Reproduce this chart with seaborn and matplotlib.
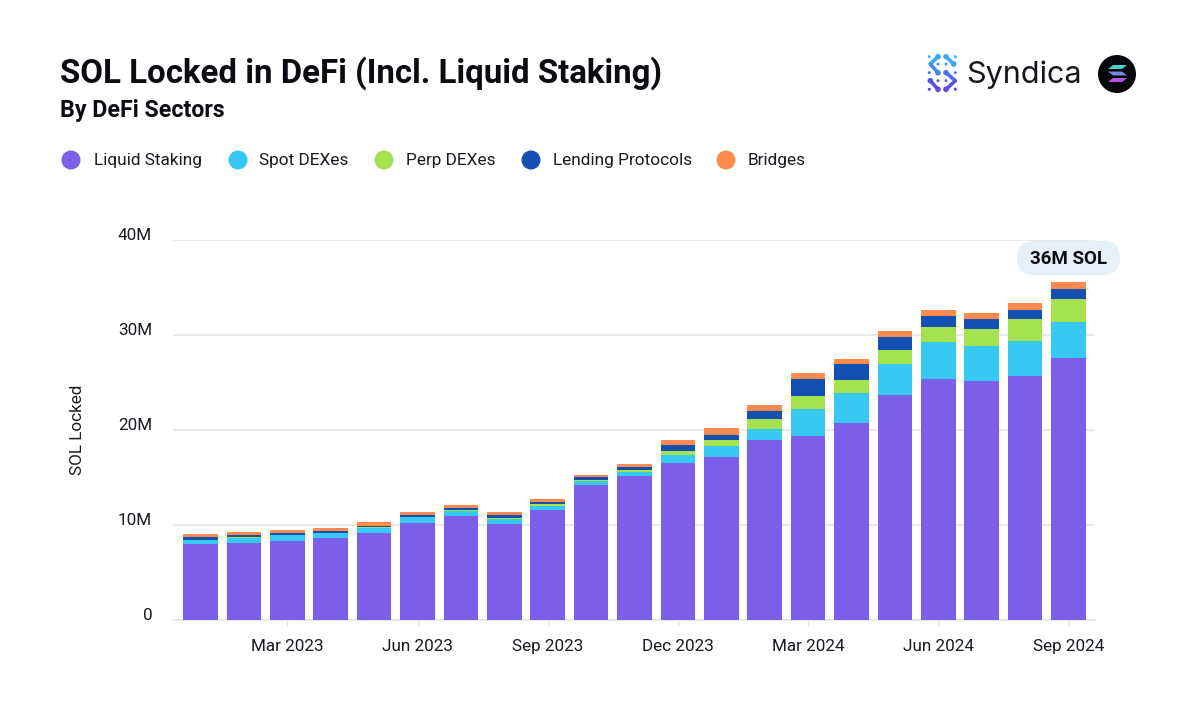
import numpy as np
import matplotlib
matplotlib.use('Agg')
import matplotlib.pyplot as plt
import seaborn as sns
from matplotlib.patches import Circle, FancyBboxPatch, Polygon
from matplotlib.transforms import ScaledTranslation

# Valores en millones de SOL
meses = ['Jan 2023', 'Feb 2023', 'Mar 2023', 'Apr 2023', 'May 2023', 'Jun 2023', 'Jul 2023',
         'Aug 2023', 'Sep 2023', 'Oct 2023', 'Nov 2023', 'Dec 2023', 'Jan 2024', 'Feb 2024',
         'Mar 2024', 'Apr 2024', 'May 2024', 'Jun 2024', 'Jul 2024', 'Aug 2024', 'Sep 2024']
liquid_staking = [7.97, 8.12, 8.35, 8.59, 9.15, 10.21, 10.95, 10.11, 11.58, 14.21, 15.16,
                  16.52, 17.12, 18.92, 19.4, 20.7, 23.68, 25.41, 25.12, 25.72, 27.54]
spot_dexes = [.45, .55, .57, .56, .56, .63, .55, .49, .45, .46, .42,
              .88, 1.19, 1.18, 2.77, 3.15, 3.28, 3.81, 3.74, 3.67, 3.78]
perp_dexes = [.05, .05, .05, .05, .05, .05, .11, .17, .2, .09, .21,
              .38, .63, 1.09, 1.38, 1.4, 1.45, 1.61, 1.78, 2.31, 2.48]
lending = [.25, .22, .22, .16, .16, .16, .18, .28, .22, .26, .35,
           .6, .55, .77, 1.8, 1.68, 1.39, 1.19, 1.09, .97, 1.05]
bridges = [.3, .35, .31, .35, .35, .32, .34, .35, .28, .28, .31,
           .56, .67, .66, .63, .59, .6, .6, .63, .75, .7]

nombres = ['Liquid Staking', 'Spot DEXes', 'Perp DEXes', 'Lending Protocols', 'Bridges']
series = [liquid_staking, spot_dexes, perp_dexes, lending, bridges]
colores = ['#7C5FE9', '#38C9F3', '#A4E34F', '#1450B2', '#FF8A4F']
meses_eje = ['Mar 2023', 'Jun 2023', 'Sep 2023', 'Dec 2023', 'Mar 2024', 'Jun 2024', 'Sep 2024']
ticks_y = [0, 10, 20, 30, 40]
etiquetas_y = ['0', '10M', '20M', '30M', '40M']

sns.set_theme(style="whitegrid")
plt.rcParams['font.family'] = ['Roboto', 'DejaVu Sans']

W, H = 1200, 719
fig = plt.figure(figsize=(W / 100, H / 100), dpi=100, facecolor='white')
ax = fig.add_axes([173 / W, 1 - 620 / H, (1095 - 173) / W, (620 - 240) / H])

# Barras apiladas
base = np.zeros(len(meses))
for nombre, valores, color in zip(nombres, series, colores):
    sns.barplot(x=meses, y=valores, bottom=base, color=color, saturation=1, width=0.8,
                linewidth=0, ax=ax, zorder=3)
    base = base + np.array(valores)

ax.set_xlim(-0.634, 20.61)
ax.set_ylim(0, 40)
ax.set_xlabel('')
ax.set_ylabel('')
ax.set_facecolor('none')
ax.xaxis.grid(False)
ax.yaxis.grid(True, color='#E3E5EA', linewidth=1.2)
ax.set_axisbelow(True)
for lado in ['top', 'right', 'left']:
    ax.spines[lado].set_visible(False)
ax.spines['bottom'].set_color('#E3E5EA')
ax.spines['bottom'].set_linewidth(1.2)

ax.set_xticks([meses.index(m) for m in meses_eje])
ax.set_xticklabels(meses_eje, fontsize=12.3, color='#1A1A22')
ax.tick_params(axis='x', length=4, width=1, color='#E3E5EA', pad=9.5, bottom=True)
ax.set_yticks(ticks_y)
ax.set_yticklabels(etiquetas_y, fontsize=12.3, color='#1A1A22')
ax.tick_params(axis='y', length=0, pad=15)
subida = ScaledTranslation(0, 4 / 72, fig.dpi_scale_trans)
for etiqueta in ax.get_yticklabels():
    etiqueta.set_transform(etiqueta.get_transform() + subida)

# Capa en pixeles para titulo, leyenda, logos y etiqueta
capa = fig.add_axes([0, 0, 1, 1], facecolor='none')
capa.set_xlim(0, W)
capa.set_ylim(H, 0)
capa.axis('off')

capa.text(60, 73, 'SOL Locked in DeFi (Incl. Liquid Staking)', fontsize=23.75, fontweight='bold',
          color='#0B0B12', va='center')
capa.text(60, 111, 'By DeFi Sectors', fontsize=16.7, fontweight='bold', color='#0B0B12', va='center')
capa.text(77.5, 430, 'SOL Locked', fontsize=12.3, rotation=90, color='#1A1A22', ha='center', va='center')

for x_m, x_t, nombre, color in zip([71, 238, 384, 531, 726], [94, 259, 406, 553, 748], nombres, colores):
    capa.add_patch(Circle((x_m, 160), 9.5, color=color, lw=0))
    capa.text(x_t, 160, nombre, fontsize=12.45, color='#1A1A22', va='center')

capa.add_patch(FancyBboxPatch((1017, 241), 103, 34, boxstyle='round,pad=0,rounding_size=17',
                              facecolor='#E6F0FB', edgecolor='none'))
capa.text(1068.5, 259.5, '36M SOL', fontsize=13.5, fontweight='bold', color='#0B0B12', ha='center', va='center')

# Logo Syndica
trazos = [[(938, 56.7), (930.3, 64), (938, 72.7)], [(946, 56.7), (953.7, 64)],
          [(946, 72.7), (955.3, 80.7), (946, 89.3)], [(930.3, 80.7), (938, 89.3)]]
puntos = [(929.3, 56.7), (955.3, 56.7), (938, 64), (946, 64), (929.3, 72.7), (955.3, 72.7),
          (938, 80.7), (946, 80.7), (929.3, 89.3), (955.3, 89.3)]


def color_logo(y):
    t = (y - 55) / 35
    return (0.22 + 0.14 * t, 0.72 - 0.47 * t, 0.95 - 0.08 * t)


for trazo in trazos:
    for (x0, y0), (x1, y1) in zip(trazo[:-1], trazo[1:]):
        capa.plot([x0, x1], [y0, y1], color=color_logo((y0 + y1) / 2), lw=2.6, solid_capstyle='round')
    for x, y in [trazo[0], trazo[-1]]:
        capa.add_patch(Circle((x, y), 2.8, color=color_logo(y), lw=0))
for x, y in puntos:
    capa.add_patch(Circle((x, y), 1.5, color=color_logo(y), lw=0))
capa.text(966, 75, 'Syndica', fontsize=22, color='#15151C', va='center', family='Inter')

# Logo Solana
capa.add_patch(Circle((1117, 74), 19, color='#07070B', lw=0))
capa.add_patch(Polygon([(1108, 69), (1122, 69), (1127, 65), (1113, 65)], color='#4AD2C6', lw=0))
capa.add_patch(Polygon([(1108, 71.5), (1122, 71.5), (1127, 75.5), (1113, 75.5)], color='#7488DC', lw=0))
capa.add_patch(Polygon([(1108, 82), (1122, 82), (1127, 78), (1113, 78)], color='#B454E8', lw=0))

fig.savefig('out.png', dpi=100, facecolor='white')
